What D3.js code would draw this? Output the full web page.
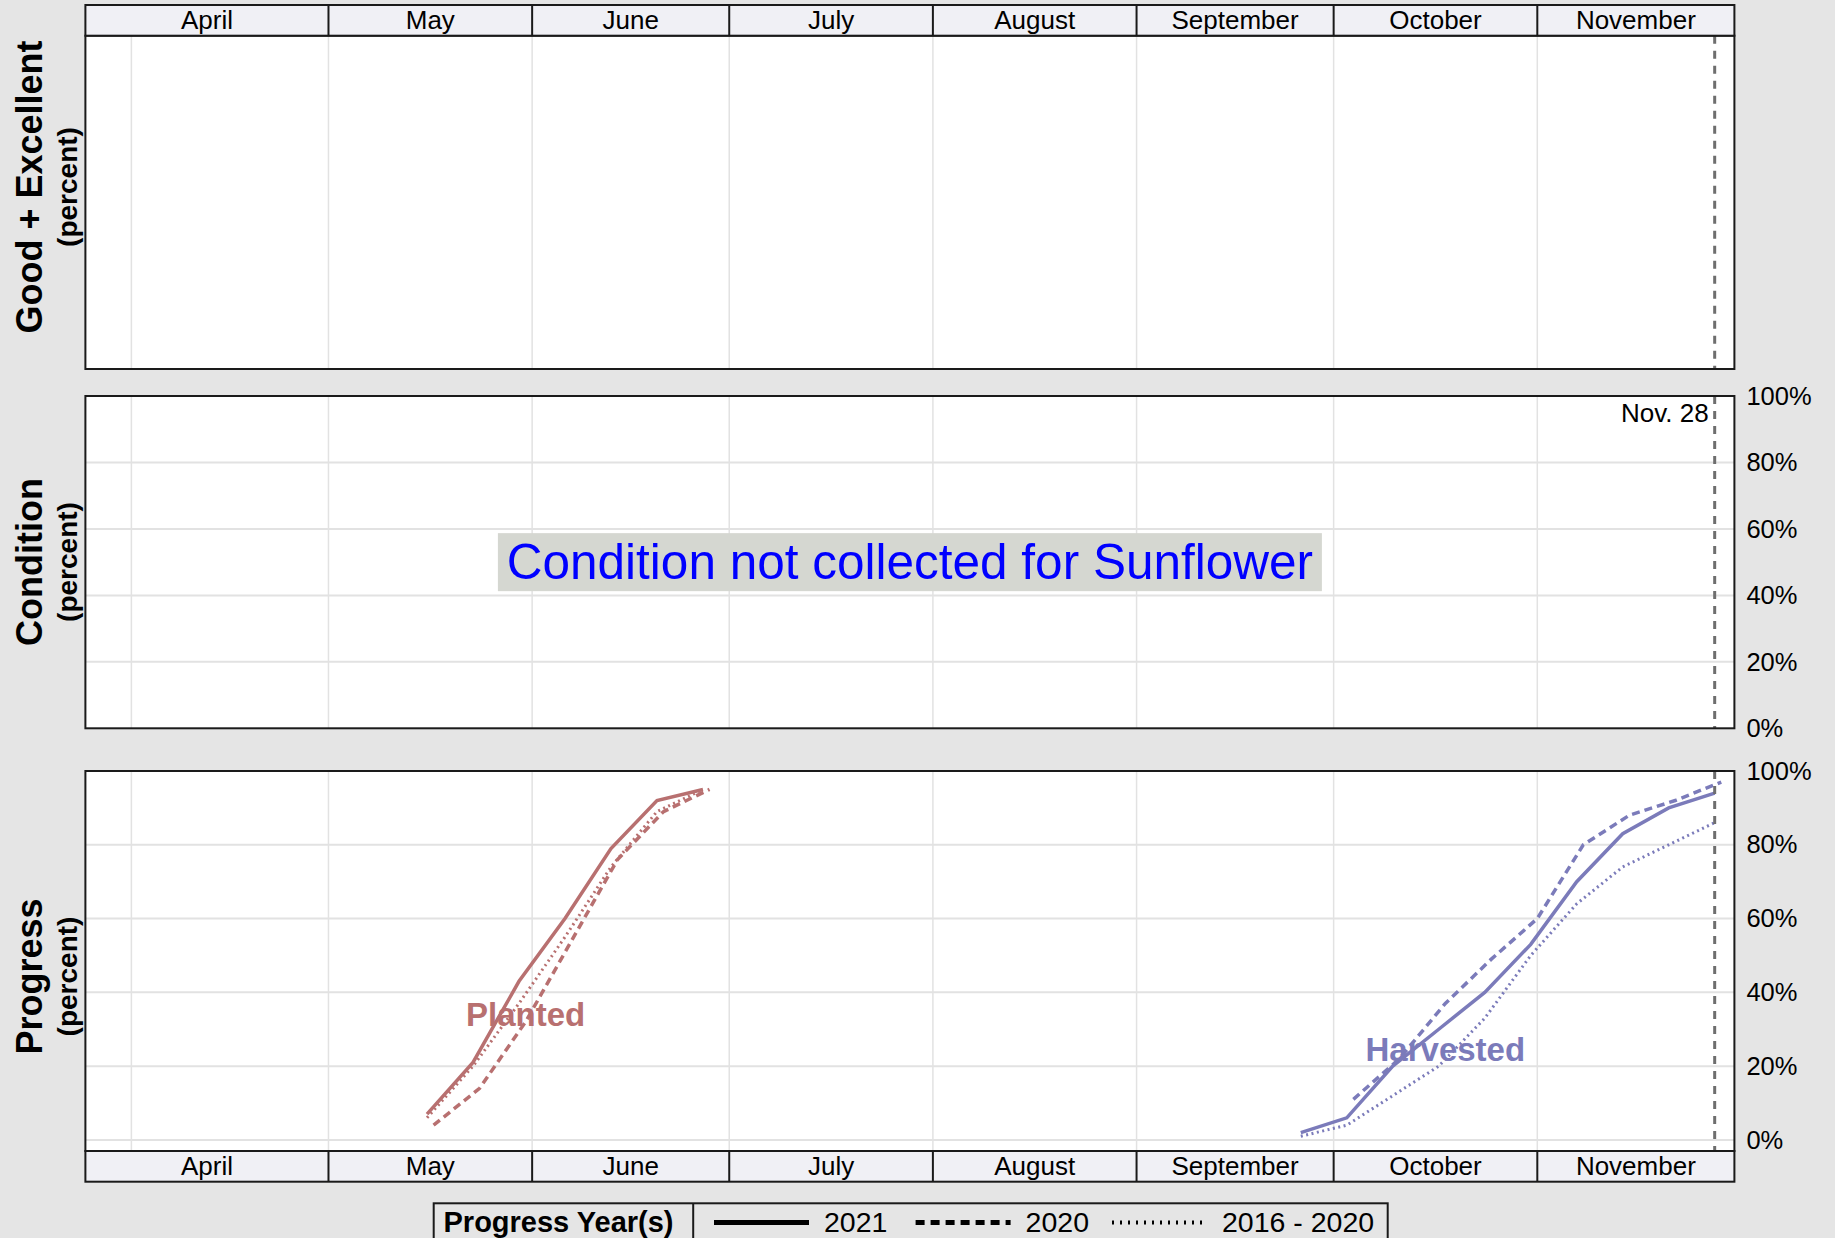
<!DOCTYPE html>
<html>
<head>
<meta charset="utf-8">
<script src="https://cdn.jsdelivr.net/npm/d3@7/dist/d3.min.js"></script>
<style>
body { margin: 0; background: #e5e5e5; }
text { font-family: "Liberation Sans", Arial, sans-serif; }
</style>
</head>
<body>
<div class="vis-progress"></div>
<script>
// month strip labels and the edges between them
const months = ["April", "May", "June", "July", "August", "September", "October", "November"];
const monthEdges = ["2021-03-25", "2021-05-01", "2021-06-01", "2021-07-01", "2021-08-01",
                    "2021-09-01", "2021-10-01", "2021-11-01", "2021-12-01"];
const gridDates = ["2021-04-01", "2021-05-01", "2021-06-01", "2021-07-01",
                   "2021-08-01", "2021-09-01", "2021-10-01", "2021-11-01"];
const yTicks = [0, 20, 40, 60, 80, 100];
const currentWeek = "2021-11-28";
const currentLabel = "Nov. 28";

// planted
const plantedWeeks = ["2021-05-16", "2021-05-23", "2021-05-30", "2021-06-06", "2021-06-13", "2021-06-20", "2021-06-27"];
const plantedWeeks2020 = ["2021-05-17", "2021-05-24", "2021-05-31", "2021-06-07", "2021-06-14", "2021-06-21", "2021-06-28"];
const planted2021 = [7, 21, 43, 60, 79, 92, 95];
const planted2020 = [4, 14, 32, 54, 76, 89, 95];
const plantedAvg = [6, 20, 37, 55, 74, 89, 95];

// harvested
const harvestWeeks = ["2021-09-26", "2021-10-03", "2021-10-10", "2021-10-17", "2021-10-24",
                      "2021-10-31", "2021-11-07", "2021-11-14", "2021-11-21", "2021-11-28"];
const harvestWeeks2020 = ["2021-10-04", "2021-10-11", "2021-10-18", "2021-10-25",
                          "2021-11-01", "2021-11-08", "2021-11-15", "2021-11-22", "2021-11-29"];
const harvest2021 = [2, 6, 20, 30, 40, 53, 70, 83, 90, 94];
const harvest2020 = [11, 22, 37, 49, 60, 80, 88, 92, 97];
const harvestAvg = [1, 4, 12, 20, 33, 50, 64, 74, 80, 86];

const legendItems = ["2021", "2020", "2016 - 2020"];

const draw = () => {
    const W = 1835, H = 1238;
    const parse = d3.timeParse("%Y-%m-%d");
    const svg = d3.select(".vis-progress").append("svg")
        .attr("width", W).attr("height", H)
        .attr("viewBox", "0 0 " + W + " " + H);

    const x = d3.scaleTime()
        .domain([parse(monthEdges[0]), parse(monthEdges[monthEdges.length - 1])])
        .range([85.4, 1734.4]);
    const x0 = x.range()[0], x1 = x.range()[1];

    const gridCol = "#e2e2e2";
    const styles = {
        "2021": { w: 3.5, dash: null },
        "2020": { w: 3.5, dash: "8,5" },
        "2016 - 2020": { w: 3, dash: "2,3.5" }
    };

    // panels: top / bottom of the plotting body
    const panels = [
        { name: "Good + Excellent", top: 35.7, bottom: 369, stripTop: 5, labelY: 187 },
        { name: "Condition", top: 396, bottom: 728.3, labelY: 562 },
        { name: "Progress", top: 771, bottom: 1151, stripTop: 1151, labelY: 976.5 }
    ];
    const stripH = 30.7;

    const yCond = d3.scaleLinear().domain([0, 100]).range([panels[1].bottom, panels[1].top]);
    const yProg = d3.scaleLinear().domain([-3, 100]).range([panels[2].bottom, panels[2].top]);

    panels.forEach((p) => {
        const g = svg.append("g");
        g.append("rect").attr("x", x0).attr("y", p.top)
            .attr("width", x1 - x0).attr("height", p.bottom - p.top)
            .attr("fill", "#fff");
        g.selectAll(".vgrid").data(gridDates).enter().append("line")
            .attr("x1", d => x(parse(d))).attr("x2", d => x(parse(d)))
            .attr("y1", p.top).attr("y2", p.bottom)
            .attr("stroke", gridCol).attr("stroke-width", 1.5);
        p.g = g;

        // left title
        svg.append("text")
            .attr("transform", "translate(42," + p.labelY + ") rotate(-90)")
            .attr("text-anchor", "middle")
            .attr("font-weight", "bold").attr("font-size", 36)
            .text(p.name);
        svg.append("text")
            .attr("transform", "translate(76.5," + p.labelY + ") rotate(-90)")
            .attr("text-anchor", "middle")
            .attr("font-weight", "bold").attr("font-size", 28)
            .text("(percent)");
    });

    // horizontal grid lines
    panels[1].g.selectAll(".hgrid").data(yTicks.filter(d => d > 0 && d < 100)).enter().append("line")
        .attr("x1", x0).attr("x2", x1)
        .attr("y1", d => yCond(d)).attr("y2", d => yCond(d))
        .attr("stroke", gridCol).attr("stroke-width", 2);
    panels[2].g.selectAll(".hgrid").data(yTicks.filter(d => d < 100)).enter().append("line")
        .attr("x1", x0).attr("x2", x1)
        .attr("y1", d => yProg(d)).attr("y2", d => yProg(d))
        .attr("stroke", gridCol).attr("stroke-width", 2);

    // right axes
    [yCond, yProg].forEach((y) => {
        const ax = svg.append("g")
            .attr("transform", "translate(" + x1 + ",0)")
            .call(d3.axisRight(y).tickValues(yTicks).tickFormat(d => d + "%").tickSize(0).tickPadding(12));
        ax.select(".domain").remove();
        ax.selectAll("text").attr("font-size", 25.5).attr("fill", "#000")
            .attr("font-family", "Liberation Sans, Arial, sans-serif");
    });

    // condition message
    const cx = (x0 + x1) / 2, cy = (panels[1].top + panels[1].bottom) / 2;
    svg.append("rect").attr("x", cx - 412).attr("y", cy - 29)
        .attr("width", 824).attr("height", 58).attr("fill", "#d5d7d1");
    svg.append("text").attr("x", cx).attr("y", cy + 17)
        .attr("text-anchor", "middle").attr("font-size", 49.5)
        .attr("fill", "#0000ff")
        .text("Condition not collected for Sunflower");

    // progress lines
    const line = (y) => d3.line().x(d => x(d.date)).y(d => y(d.v));
    const toPts = (dates, vals) => dates.map((d, i) => ({ date: parse(d), v: vals[i] }));
    const series = [
        { color: "#b87070", key: "2021", pts: toPts(plantedWeeks, planted2021) },
        { color: "#b87070", key: "2020", pts: toPts(plantedWeeks2020, planted2020) },
        { color: "#b87070", key: "2016 - 2020", pts: toPts(plantedWeeks, plantedAvg) },
        { color: "#7b7bba", key: "2021", pts: toPts(harvestWeeks, harvest2021) },
        { color: "#7b7bba", key: "2020", pts: toPts(harvestWeeks2020, harvest2020) },
        { color: "#7b7bba", key: "2016 - 2020", pts: toPts(harvestWeeks, harvestAvg) }
    ];
    series.forEach(s => {
        panels[2].g.append("path").datum(s.pts)
            .attr("fill", "none").attr("stroke", s.color)
            .attr("stroke-width", styles[s.key].w)
            .attr("stroke-dasharray", styles[s.key].dash)
            .attr("d", line(yProg));
    });
    panels[2].g.append("text")
        .attr("x", x(parse("2021-05-31"))).attr("y", yProg(31))
        .attr("text-anchor", "middle").attr("font-weight", "bold").attr("font-size", 33)
        .attr("fill", "#b87070").text("Planted");
    panels[2].g.append("text")
        .attr("x", x(parse("2021-10-18"))).attr("y", yProg(21.5))
        .attr("text-anchor", "middle").attr("font-weight", "bold").attr("font-size", 33)
        .attr("fill", "#7b7bba").text("Harvested");

    // current week marker
    const xc = x(parse(currentWeek));
    panels.forEach(p => {
        svg.append("line").attr("x1", xc).attr("x2", xc)
            .attr("y1", p.top).attr("y2", p.bottom)
            .attr("stroke", "#6e6e6e").attr("stroke-width", 3)
            .attr("stroke-dasharray", "8,7");
    });
    svg.append("text").attr("x", xc - 6).attr("y", panels[1].top + 25.5)
        .attr("text-anchor", "end").attr("font-size", 26).text(currentLabel);

    // panel borders
    panels.forEach(p => {
        svg.append("rect").attr("x", x0).attr("y", p.top)
            .attr("width", x1 - x0).attr("height", p.bottom - p.top)
            .attr("fill", "none").attr("stroke", "#1a1a1a").attr("stroke-width", 2);
    });

    // month strips
    panels.filter(p => p.stripTop !== undefined).forEach(p => {
        const g = svg.append("g");
        g.append("rect").attr("x", x0).attr("y", p.stripTop)
            .attr("width", x1 - x0).attr("height", stripH)
            .attr("fill", "#f0f0f5").attr("stroke", "#1a1a1a").attr("stroke-width", 2);
        g.selectAll(".sep").data(monthEdges.slice(1, -1)).enter().append("line")
            .attr("x1", d => x(parse(d))).attr("x2", d => x(parse(d)))
            .attr("y1", p.stripTop).attr("y2", p.stripTop + stripH)
            .attr("stroke", "#1a1a1a").attr("stroke-width", 2);
        g.selectAll(".mlab").data(months).enter().append("text")
            .attr("x", (d, i) => (x(parse(monthEdges[i])) + x(parse(monthEdges[i + 1]))) / 2)
            .attr("y", p.stripTop + 24.3)
            .attr("text-anchor", "middle").attr("font-size", 26)
            .text(d => d);
    });

    // legend
    const lg = svg.append("g");
    lg.append("rect").attr("x", 433.7).attr("y", 1203.3)
        .attr("width", 954).attr("height", 44)
        .attr("fill", "none").attr("stroke", "#1a1a1a").attr("stroke-width", 2);
    lg.append("line").attr("x1", 693.2).attr("x2", 693.2).attr("y1", 1203.3).attr("y2", 1240)
        .attr("stroke", "#1a1a1a").attr("stroke-width", 2);
    lg.append("text").attr("x", 443.5).attr("y", 1232)
        .attr("font-weight", "bold").attr("font-size", 29).text("Progress Year(s)");
    const lx = [714, 915.6, 1112];
    const legendStyle = {
        "2021": { w: 5, dash: null },
        "2020": { w: 5, dash: "9,6" },
        "2016 - 2020": { w: 4, dash: "2,6" }
    };
    legendItems.forEach((k, i) => {
        lg.append("line").attr("x1", lx[i]).attr("x2", lx[i] + 95)
            .attr("y1", 1222.5).attr("y2", 1222.5)
            .attr("stroke", "#000").attr("stroke-width", legendStyle[k].w)
            .attr("stroke-dasharray", legendStyle[k].dash);
        lg.append("text").attr("x", lx[i] + 110).attr("y", 1232)
            .attr("font-size", 28.5).text(k);
    });
};

draw();
</script>
</body>
</html>
